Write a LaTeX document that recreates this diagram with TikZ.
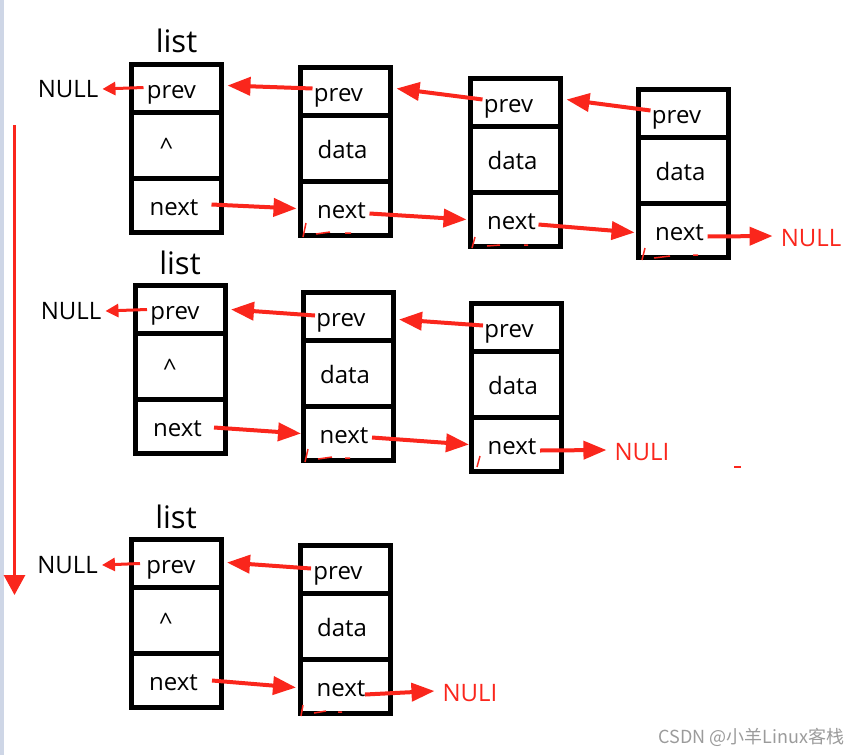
\documentclass[tikz,border=0pt]{standalone}
\usepackage{fontspec}
\setmainfont{Open Sans}
\newfontfamily\cjkfont{Noto Sans CJK SC}
\usepackage{tikz}
\usetikzlibrary{positioning,arrows.meta}
\definecolor{linkred}{RGB}{250,38,28}
\definecolor{stripblue}{RGB}{206,214,230}
\definecolor{markgray}{RGB}{155,155,155}

\begin{document}
\begin{tikzpicture}[x=1pt,y=-1pt,
    cell/.style={draw, line width=5pt, minimum width=90pt, inner sep=0pt,
      outer sep=0pt, text height=19pt, text depth=0pt,
      font=\fontsize{24}{28}\selectfont},
    prevcell/.style={cell, minimum height=48pt},
    datacell/.style={cell, minimum height=66pt},
    nextcell/.style={cell, minimum height=54pt},
    head/.style={font=\fontsize{31}{36}\selectfont, inner sep=0pt},
    nulltext/.style={font=\fontsize{24}{28}\selectfont, inner sep=0pt},
    link/.style={linkred, line width=4pt, -{Triangle[length=23pt,width=18pt]}},
    shortlink/.style={linkred, line width=3pt, -{Triangle[length=13pt,width=13pt]}},
    scribble/.style={linkred, line width=1.5pt}]
    \useasboundingbox (0,0) rectangle (861,755);
    \fill[stripblue] (0,0) rectangle (4,755);

    \node[prevcell] (a1p) at (176.5,88.5) {prev\hspace*{10pt}};
    \node[datacell, below=0pt of a1p] (a1d) {\textasciicircum\hspace*{20pt}};
    \node[nextcell, below=0pt of a1d] (a1n) {next\hspace*{5pt}};
    \node[head, above=11pt of a1p] (a1t) {list};
    \node[prevcell] (a2p) at (345.5,91.5) {prev\hspace*{14pt}};
    \node[datacell, below=0pt of a2p] (a2d) {data\hspace*{6pt}};
    \node[nextcell, below=0pt of a2d] (a2n) {next\hspace*{8pt}};
    \node[prevcell] (a3p) at (515.5,102.5) {prev\hspace*{14pt}};
    \node[datacell, below=0pt of a3p] (a3d) {data\hspace*{6pt}};
    \node[nextcell, below=0pt of a3d] (a3n) {next\hspace*{8pt}};
    \node[prevcell] (a4p) at (683.5,113.5) {prev\hspace*{14pt}};
    \node[datacell, below=0pt of a4p] (a4d) {data\hspace*{6pt}};
    \node[nextcell, below=0pt of a4d] (a4n) {next\hspace*{8pt}};
    \node[nulltext] (anull) at (68,89) {NULL};
    \node[nulltext, text=linkred] (aend) at (811,238) {NULL};

    \draw[shortlink] ([xshift=12pt,yshift=1pt]a1p.west) -- ([xshift=4pt]anull.east);
    \draw[link] ([xshift=12pt,yshift=3pt]a2p.west) -- ([xshift=6pt,yshift=3pt]a1p.east);
    \draw[link] ([xshift=12pt,yshift=3pt]a3p.west) -- ([xshift=6pt,yshift=3pt]a2p.east);
    \draw[link] ([xshift=12pt,yshift=3pt]a4p.west) -- ([xshift=6pt,yshift=3pt]a3p.east);
    \draw[link] ([xshift=-10pt,yshift=1pt]a1n.east) -- ([xshift=-4pt]a2n.west);
    \draw[link] ([xshift=-21pt,yshift=-5pt]a2n.east) -- ([xshift=-4pt]a3n.west);
    \draw[link] ([xshift=-22pt,yshift=-5pt]a3n.east) -- ([xshift=-4pt,yshift=-2pt]a4n.west);
    \draw[link] ([xshift=-21pt,yshift=-6pt]a4n.east) -- ([xshift=-8pt,yshift=2pt]aend.west);

    \node[prevcell] (b1p) at (180,309.5) {prev\hspace*{10pt}};
    \node[datacell, below=0pt of b1p] (b1d) {\textasciicircum\hspace*{20pt}};
    \node[nextcell, below=0pt of b1d] (b1n) {next\hspace*{5pt}};
    \node[head, above=11pt of b1p] (b1t) {list};
    \node[prevcell] (b2p) at (348,316.5) {prev\hspace*{14pt}};
    \node[datacell, below=0pt of b2p] (b2d) {data\hspace*{6pt}};
    \node[nextcell, below=0pt of b2d] (b2n) {next\hspace*{8pt}};
    \node[prevcell] (b3p) at (516,327.5) {prev\hspace*{14pt}};
    \node[datacell, below=0pt of b3p] (b3d) {data\hspace*{6pt}};
    \node[nextcell, below=0pt of b3d] (b3n) {next\hspace*{8pt}};
    \node[nulltext] (bnull) at (71,311) {NULL};
    \node[nulltext, text=linkred] (bend) at (642,452) {NULI};

    \draw[shortlink] ([xshift=12pt]b1p.west) -- ([xshift=4pt]bnull.east);
    \draw[link] ([xshift=12pt,yshift=1pt]b2p.west) -- ([xshift=6pt]b1p.east);
    \draw[link] ([xshift=12pt,yshift=2pt]b3p.west) -- ([xshift=6pt,yshift=-3pt]b2p.east);
    \draw[link] ([xshift=-11pt,yshift=-1pt]b1n.east) -- ([xshift=-2pt]b2n.west);
    \draw[link] ([xshift=-21pt,yshift=-4pt]b2n.east) -- ([xshift=-2pt]b3n.west);
    \draw[link] ([xshift=-21pt,yshift=-6pt]b3n.east) -- ([xshift=-8pt,yshift=2pt]bend.west);

    \node[prevcell] (c1p) at (176,563.5) {prev\hspace*{10pt}};
    \node[datacell, below=0pt of c1p] (c1d) {\textasciicircum\hspace*{20pt}};
    \node[nextcell, below=0pt of c1d] (c1n) {next\hspace*{5pt}};
    \node[head, above=11pt of c1p] (c1t) {list};
    \node[prevcell] (c2p) at (345,569.5) {prev\hspace*{14pt}};
    \node[datacell, below=0pt of c2p] (c2d) {data\hspace*{6pt}};
    \node[nextcell, below=0pt of c2d] (c2n) {next\hspace*{8pt}};
    \node[nulltext] (cnull) at (67.5,565) {NULL};
    \node[nulltext, text=linkred] (cend) at (470,693) {NULI};

    \draw[shortlink] ([xshift=9pt]c1p.west) -- ([xshift=4pt]cnull.east);
    \draw[link] ([xshift=11pt,yshift=1pt]c2p.west) -- ([xshift=6pt,yshift=1pt]c1p.east);
    \draw[link] ([xshift=-9pt]c1n.east) -- ([xshift=-4pt,yshift=-1pt]c2n.west);
    \draw[link] ([xshift=-25pt,yshift=-8pt]c2n.east) -- ([xshift=-8pt,yshift=2pt]cend.west);

    \coordinate (flowtop) at (14.5,125);
    \coordinate (flowend) at (14.5,595);
    \draw[linkred, line width=3pt, -{Triangle[length=20pt,width=21pt]}] (flowtop) -- (flowend);

    \draw[scribble] (303,237) -- (306,223);
    \draw[scribble] (316,234) -- (330,232) (345,233) -- (351,233);
    \draw[scribble] (472,248) -- (475,237);
    \draw[scribble] (487,246) -- (500,245) (524,245) -- (528,245);
    \draw[scribble] (642,260) -- (645,248);
    \draw[scribble] (654,258) -- (670,256) (693,255) -- (698,255);
    \draw[scribble] (305,462) -- (308,449);
    \draw[scribble] (318,459) -- (332,457) (345,458) -- (350,458);
    \draw[scribble] (477,467) -- (480,456);
    \draw[scribble] (301,716) -- (303,705);
    \draw[scribble] (314,713) -- (326,711) (338,712) -- (342,712);
    \draw[scribble] (734,467) -- (741,467);

    \node[text=markgray, font=\cjkfont\fontsize{18}{20}\selectfont, anchor=east] (mark) at (848,737) {CSDN @小羊Linux客栈};
\end{tikzpicture}
\end{document}
